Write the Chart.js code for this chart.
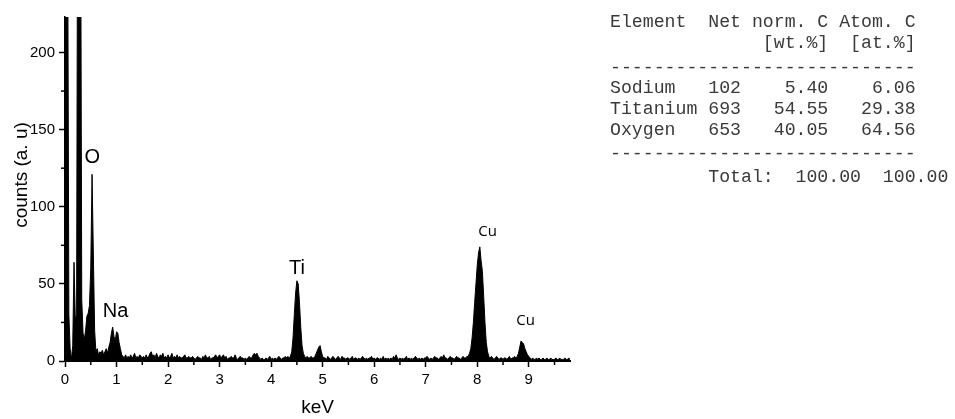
<!DOCTYPE html>
<html>
<head>
<meta charset="utf-8">
<script src="https://cdn.jsdelivr.net/npm/chart.js@4.4.1/dist/chart.umd.min.js"></script>
<style>
body { margin: 0; background: #fff; }
#wrap { position: relative; width: 955px; height: 419px; }
#spectrum { position: absolute; left: 0; top: 0; }
.row { position: absolute; left: 610px; font-family: "Liberation Mono", monospace; font-size: 18.2px; line-height: 20px; white-space: pre; color: #3a3a3a; }
</style>
</head>
<body>
<div id="wrap">
  <canvas id="spectrum" width="955" height="419"></canvas>
  <div id="table"></div>
</div>
<script>
// EDS spectrum, one value per 0.025 keV channel (each row = 0.5 keV)
var energyStep = 0.025;
var counts = [
    400,400,300,30,8,1,10,64,27,30,400,500,350,40,18,14,20,29,31,36,
    60,121,70,20,6,8,4,6,5,7,4,6,8,5,9,12,18,22,16,13,
    19,18,12,8,4,3,2,4,2,3,2,4,2,3,5,2,3,2,4,3,
    2,3,2,4,2,3,5,6,3,4,2,5,3,2,4,3,5,2,3,2,
    4,2,3,5,2,3,2,4,2,3,2,2,3,4,2,2,3,2,2,3,
    2,1,2,3,2,2,1,3,2,4,2,2,3,1,2,2,3,4,2,3,
    4,2,3,4,2,3,1,2,2,3,2,2,4,2,1,2,3,2,2,1,
    2,1,2,3,2,2,4,5,4,5,3,2,1,2,1,1,2,1,2,3,
    1,2,1,2,1,2,3,2,1,2,2,3,2,3,2,3,6,15,30,44,
    52,50,38,22,10,5,3,2,3,2,2,3,2,2,3,5,7,9,10,6,
    3,2,2,1,3,2,1,2,3,2,1,2,3,2,1,3,2,2,1,2,
    2,1,2,3,1,2,2,1,2,1,2,3,2,1,2,1,2,2,3,1,
    2,1,2,2,1,2,1,3,1,2,1,2,1,2,1,3,2,4,2,1,
    2,1,2,1,2,3,1,2,1,2,1,2,3,2,1,2,1,2,1,2,
    2,3,2,1,2,1,2,3,2,2,1,2,3,2,4,2,2,1,2,3,
    2,2,1,2,3,2,2,1,2,3,2,2,3,3,5,8,15,25,38,50,
    62,70,74,65,58,42,25,12,6,3,2,3,2,1,2,3,2,1,2,2,
    1,2,2,1,2,3,1,2,2,3,2,3,5,9,13,12,11,8,6,4,
    3,2,1,2,1,1,2,1,2,1,1,2,1,1,2,1,1,2,1,1,
    1,2,1,1,2,1,1,1,2,1,1,2,1,1,1,1,1,1,1,1
];

var xMinorTicks = [0.5, 1.5, 2.5, 3.5, 4.5, 5.5, 6.5, 7.5, 8.5, 9.5];
var yMinorTicks = [25, 75, 125, 175];

var peakNames = ['O', 'Na', 'Ti', 'Cu', 'Cu'];
var peakKeV = [0.53, 0.98, 4.5, 8.2, 8.94];
var peakCounts = [132, 32, 60, 84, 26];

// quantification table
var elements = ['Sodium', 'Titanium', 'Oxygen'];
var netCounts = ['102', '693', '653'];
var wtPercent = ['5.40', '54.55', '40.05'];
var atPercent = ['6.06', '29.38', '64.56'];
var totals = ['100.00', '100.00'];

var points = counts.map(function(c, i){
    return {x: +(i * energyStep).toFixed(3), y: c};
});

var extras = {
    id: 'extras',
    afterDraw: function(chart){
        var ctx = chart.ctx;
        var xs = chart.scales.x, ys = chart.scales.y;
        ctx.save();
        ctx.strokeStyle = '#000';
        ctx.lineWidth = 1.5;
        xMinorTicks.forEach(function(v){
            var px = xs.getPixelForValue(v);
            ctx.beginPath(); ctx.moveTo(px, xs.top); ctx.lineTo(px, xs.top + 4); ctx.stroke();
        });
        yMinorTicks.forEach(function(v){
            var py = ys.getPixelForValue(v);
            ctx.beginPath(); ctx.moveTo(ys.right, py); ctx.lineTo(ys.right - 4, py); ctx.stroke();
        });
        ctx.fillStyle = '#000';
        ctx.textAlign = 'center';
        ctx.textBaseline = 'middle';
        peakNames.forEach(function(name, i){
            ctx.font = name == 'Cu' ? '15px "Open Sans"' : '20px "Liberation Sans"';
            ctx.fillText(name, xs.getPixelForValue(peakKeV[i]), ys.getPixelForValue(peakCounts[i]));
        });
        ctx.translate(21.5, 175);
        ctx.rotate(-Math.PI / 2);
        ctx.font = '19px "Liberation Sans"';
        ctx.fillText('counts (a. u)', 0, 0);
        ctx.restore();
    }
};

var tickFont = {family: 'Liberation Sans', size: 15};

new Chart(document.getElementById('spectrum'), {
    type: 'line',
    data: {
        datasets: [{
            data: points,
            borderColor: '#000',
            backgroundColor: '#000',
            borderWidth: 1,
            pointRadius: 0,
            fill: 'origin',
            tension: 0
        }]
    },
    options: {
        responsive: false,
        animation: false,
        layout: {padding: {top: 17, right: 385, left: 0, bottom: 0}},
        plugins: {legend: {display: false}, tooltip: {enabled: false}},
        scales: {
            x: {
                type: 'linear', min: 0, max: 9.8,
                afterFit: function(s){ s.height = 58; },
                ticks: {stepSize: 1, includeBounds: false, color: '#000', font: tickFont, padding: 4, maxRotation: 0, autoSkip: false},
                grid: {drawOnChartArea: false, tickLength: 6, tickWidth: 1.5, tickColor: '#000'},
                border: {color: '#000', width: 2},
                title: {display: true, text: 'keV', color: '#000', font: {family: 'Liberation Sans', size: 19}, padding: 0}
            },
            y: {
                min: 0, max: 223,
                afterFit: function(s){ s.width = 65; },
                ticks: {stepSize: 50, includeBounds: false, color: '#000', font: tickFont, padding: 4},
                grid: {drawOnChartArea: false, tickLength: 6, tickWidth: 1.5, tickColor: '#000'},
                border: {color: '#000', width: 1.5}
            }
        }
    },
    plugins: [extras]
});

// table as text lines
var dashes = '----------------------------';
var lines = [
    'Element  Net norm. C Atom. C',
    '              [wt.%]  [at.%]',
    dashes
];
elements.forEach(function(el, i){
    lines.push(el.padEnd(9) + netCounts[i] + wtPercent[i].padStart(8) + atPercent[i].padStart(8));
});
lines.push(dashes);
lines.push('         Total:  ' + totals[0] + '  ' + totals[1]);
var rowCenters = [22, 43, 68, 88, 109, 130, 154, 177];
var table = document.getElementById('table');
lines.forEach(function(t, i){
    var d = document.createElement('div');
    d.className = 'row';
    d.style.top = (rowCenters[i] - 10) + 'px';
    d.textContent = t;
    table.appendChild(d);
});
</script>
</body>
</html>
